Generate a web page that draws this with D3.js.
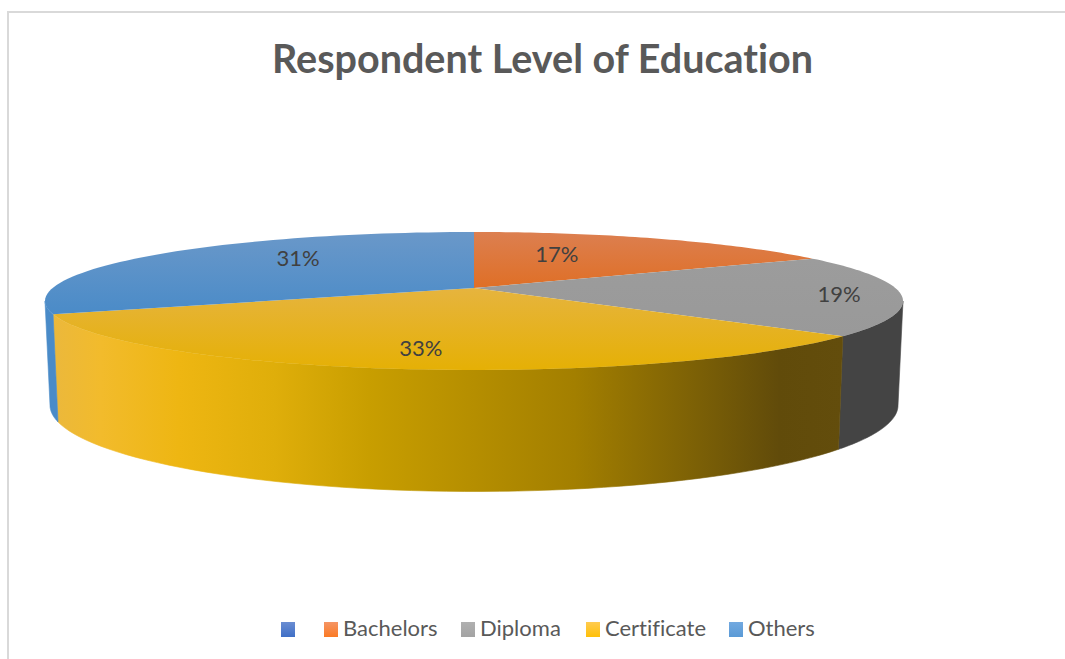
<!DOCTYPE html>
<html>
<head>
<meta charset="utf-8">
<script src="https://cdn.jsdelivr.net/npm/d3@7/dist/d3.min.js"></script>
<style>
  html, body { margin: 0; padding: 0; background: #fff; }
  svg { display: block; }
  text { font-family: Lato, "Open Sans", sans-serif; font-variant-ligatures: none; }
</style>
</head>
<body>
<svg id="chart" width="1065" height="659"></svg>
<script>
// Survey shares, in percent
const categories = ["", "Bachelors", "Diploma", "Certificate", "Others"];
const shares = [0, 17, 19, 33, 31];
const titleText = "Respondent Level of Education";

// Slice colours: top face [upper, lower], swatch [upper, lower]
const topFaceColours = [
  ["#4472c4", "#4472c4"],
  ["#dc7f50", "#df6f26"],
  ["#9c9c9c", "#999999"],
  ["#e6b43e", "#e5b005"],
  ["#6a98c9", "#4a8bc8"]
];
const swatchColours = [
  ["#6a8dd2", "#3f6fc6"],
  ["#f59565", "#fb7a24"],
  ["#b0b0b0", "#a3a3a3"],
  ["#ffcb50", "#ffc008"],
  ["#72a9e0", "#5a9ad6"]
];
const wallColours = ["#2f4f8a", "#8a4a1a", "#444444", null, "#4a8bc8"];
const certificateWallStops = [
  [0, "#ebb83c"], [0.06, "#f2bb2c"], [0.16, "#eeb612"], [0.28, "#dfae0a"],
  [0.4, "#c89e00"], [0.66, "#a37f00"], [0.92, "#614b0a"], [1, "#634d0c"]
];

// Label anchors in top-ellipse units (-1..1 on each axis)
const labelAnchors = [null, [0.193, -0.68], [0.851, -0.10], [-0.124, 0.685], [-0.41, -0.623]];
// Legend layout: left edge of each swatch
const legendSwatchX = [281, 324, 461, 586, 729];

const svg = d3.select("#chart");
const defs = svg.append("defs");

// Top and bottom rims of the drum, as scales over normalised coordinates
const topX = d3.scaleLinear().domain([-1, 1]).range([45, 903]);
const topY = d3.scaleLinear().domain([-1, 1]).range([232, 370]);
const baseX = d3.scaleLinear().domain([-1, 1]).range([50, 898]);
const baseY = d3.scaleLinear().domain([-1, 1]).range([319, 491.5]);

// Perspective tilt: the pie centre lands above the centre of the ellipse
const tilt = -0.188;
function project(angle, r = 1) {
  const x = r * Math.sin(angle), y = -r * Math.cos(angle);
  const d = 1 + tilt * y;
  return [x * Math.sqrt(1 - tilt * tilt) / d, (y + tilt) / d];
}
const onTop = p => [topX(p[0]), topY(p[1])];
const onBase = p => [baseX(p[0]), baseY(p[1])];

const arcs = d3.pie().sort(null).value(d => d)(shares);
const sweep = (a0, a1) => d3.range(0, 61).map(i => a0 + (a1 - a0) * i / 60);
const line = d3.line();

// Frame around the chart area
svg.append("path")
  .attr("d", "M8,659V12H1065")
  .attr("fill", "none")
  .attr("stroke", "#d9d9d9")
  .attr("stroke-width", 2);

// Gradients
function verticalGradient(id, colours) {
  const g = defs.append("linearGradient").attr("id", id)
    .attr("x1", 0).attr("y1", 0).attr("x2", 0).attr("y2", 1);
  g.append("stop").attr("offset", 0).attr("stop-color", colours[0]);
  g.append("stop").attr("offset", 1).attr("stop-color", colours[1]);
}
topFaceColours.forEach((c, i) => verticalGradient("face" + i, c));
swatchColours.forEach((c, i) => verticalGradient("swatch" + i, c));

const wallGradient = defs.append("linearGradient").attr("id", "certificateWall")
  .attr("gradientUnits", "userSpaceOnUse")
  .attr("x1", topX(project(arcs[3].endAngle)[0])).attr("y1", 0)
  .attr("x2", topX(project(arcs[3].startAngle)[0])).attr("y2", 0);
certificateWallStops.forEach(s =>
  wallGradient.append("stop").attr("offset", s[0]).attr("stop-color", s[1]));

// Front wall: only the part of the rim facing the viewer is visible.
// The hairline stroke closes antialiasing seams between neighbouring slices.
const wallFrom = Math.acos(tilt);
const wallTo = 2 * Math.PI - wallFrom;
const wallFill = a => a.index === 3 ? "url(#certificateWall)" : wallColours[a.index];
svg.append("g").selectAll("path")
  .data(arcs.filter(a => a.value > 0 && a.endAngle > wallFrom && a.startAngle < wallTo))
  .join("path")
  .attr("d", a => {
    const angles = sweep(Math.max(a.startAngle, wallFrom), Math.min(a.endAngle, wallTo));
    const upper = angles.map(t => onTop(project(t)));
    const lower = angles.slice().reverse().map(t => onBase(project(t)));
    return line(upper.concat(lower)) + "Z";
  })
  .attr("fill", wallFill)
  .attr("stroke", wallFill)
  .attr("stroke-width", 0.6);

// Top face
svg.append("g").selectAll("path")
  .data(arcs.filter(a => a.value > 0))
  .join("path")
  .attr("d", a => {
    const rim = sweep(a.startAngle, a.endAngle).map(t => onTop(project(t)));
    return line([onTop(project(0, 0))].concat(rim)) + "Z";
  })
  .attr("fill", a => `url(#face${a.index})`);

// Percentage labels
svg.append("g").selectAll("text")
  .data(arcs.filter(a => a.value > 0))
  .join("text")
  .attr("x", a => topX(labelAnchors[a.index][0]))
  .attr("y", a => topY(labelAnchors[a.index][1]))
  .attr("dy", "0.35em")
  .attr("text-anchor", "middle")
  .attr("font-size", 22)
  .attr("fill", "#404040")
  .text(a => a.value + "%");

// Title
svg.append("text")
  .attr("x", 542.5).attr("y", 73)
  .attr("text-anchor", "middle")
  .attr("font-size", 39.5)
  .attr("font-weight", 700)
  .attr("fill", "#595959")
  .text(titleText);

// Legend
const legend = svg.append("g").selectAll("g")
  .data(categories)
  .join("g")
  .attr("transform", (d, i) => `translate(${legendSwatchX[i]},622)`);
legend.append("rect")
  .attr("width", 14).attr("height", 15)
  .attr("fill", (d, i) => `url(#swatch${i})`);
legend.append("text")
  .attr("x", 19).attr("y", 14)
  .attr("font-size", 22)
  .attr("fill", "#595959")
  .text(d => d);
</script>
</body>
</html>
